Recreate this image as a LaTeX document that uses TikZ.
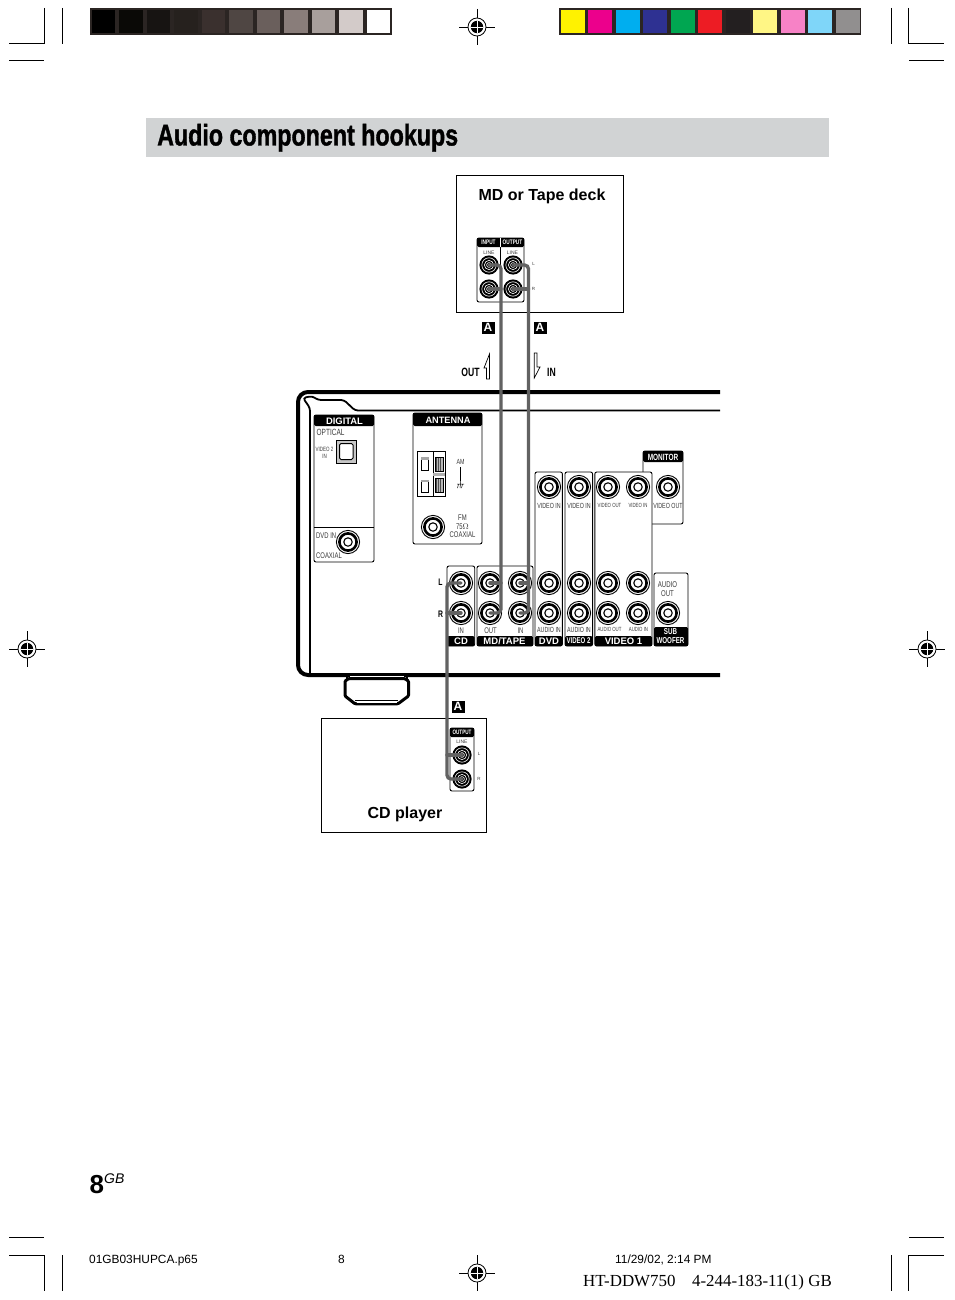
\documentclass[tikz,border=0pt]{standalone}
\usepackage{fontspec}
\setmainfont{Liberation Sans}
\newfontfamily\narrowf[FakeStretch=0.72]{Liberation Sans}
\newfontfamily\titlef[FakeStretch=0.72]{Liberation Sans}
\newfontfamily\headf[FakeStretch=0.775,FakeBold=1.2]{Liberation Sans}
\newfontfamily\timesf{Liberation Serif}
\usetikzlibrary{calc}
\definecolor{frameink}{HTML}{2B2523}
\definecolor{cableink}{HTML}{626262}
\definecolor{labelink}{HTML}{3A3A3A}
\definecolor{bandink}{HTML}{D1D3D4}
\tikzset{
  x=1pt,y=-1pt,
  crop/.style={line width=1pt,black},
  panel/.style={draw=black,line width=.9pt,fill=white,rounded corners=2pt},
  blackcap/.style={fill=black,rounded corners=1.5pt},
  unitbox/.style={draw=black,line width=1pt,fill=white},
  lab/.style={inner sep=0pt,font=\narrowf\fontsize{8.2}{8.6}\selectfont,text=labelink,align=center},
  tinylab/.style={inner sep=0pt,font=\narrowf\fontsize{7.4}{7.8}\selectfont,text=labelink,align=center},
  wee/.style={inner sep=0pt,font=\fontsize{5}{5}\selectfont,text=labelink},
  capb/.style={inner sep=0pt,font=\fontsize{9.5}{9.5}\selectfont\bfseries,text=white},
  capn/.style={inner sep=0pt,font=\titlef\bfseries\fontsize{8.4}{8.4}\selectfont,text=white,align=center},
  capt/.style={inner sep=0pt,font=\titlef\bfseries\fontsize{6.6}{6.6}\selectfont,text=white},
  boldn/.style={inner sep=0pt,font=\titlef\bfseries\fontsize{12}{12}\selectfont,text=black},
  unittitle/.style={inner sep=0pt,font=\fontsize{16}{16}\selectfont\bfseries},
  badge/.style={fill=black,text=white,inner sep=0pt,minimum width=13pt,minimum height=12pt,font=\fontsize{12}{12}\selectfont\bfseries},
  footlab/.style={inner sep=0pt,font=\fontsize{11.9}{11.9}\selectfont,text=black},
  jackface/.style={circle,inner sep=0pt,minimum size=24pt},
  cable/.style={draw=cableink,line width=3.4pt,rounded corners=4pt,line cap=round},
  branch/.style={draw=cableink,line width=3.4pt,line cap=round},
  hollow/.style={draw=black,line width=.7pt,fill=white,line join=miter}
}
\newcommand{\jack}[2]{%
  \node[jackface] (#1) at (#2) {};
  \draw[black,line width=.9pt,fill=white] (#1.center) circle (11.6);
  \draw[black,line width=2.6pt,fill=white] (#1.center) circle (8.6);
  \draw[black,line width=1.1pt] (#1.center) circle (4.2);
}
\newcommand{\smalljack}[2]{%
  \node[jackface,minimum size=20pt] (#1) at (#2) {};
  \fill[black] (#1.center) circle (9.6);
  \draw[white,line width=.6pt] (#1.center) circle (7.2);
  \draw[white,line width=.6pt] (#1.center) circle (4.6);
  \draw[white,line width=.6pt] (#1.center) circle (2.4);
}
\newcommand{\regmark}[2]{%
  \coordinate (#1) at (#2);
  \draw[black,line width=.5pt] ($(#1)+(-18,0)$) -- ($(#1)+(18,0)$) ($(#1)+(0,-18)$) -- ($(#1)+(0,18)$);
  \draw[black,line width=.8pt,fill=white] (#1) circle (9);
  \fill[black] (#1) circle (6.2);
  \draw[white,line width=.9pt] ($(#1)+(-6.2,0)$) -- ($(#1)+(6.2,0)$) ($(#1)+(0,-6.2)$) -- ($(#1)+(0,6.2)$);
}
\newcommand{\swatch}[3]{\fill[#3] (#1,10) rectangle (#2,33.5);}
\begin{document}
\begin{tikzpicture}
\useasboundingbox (0,0) rectangle (954,1300);
\fill[white] (0,0) rectangle (954,1300);

% crop marks
\draw[crop] (44.5,8) -- (44.5,44) -- (9,44) (62,8) -- (62,44) (9,61) -- (44,61);
\draw[crop] (891,8) -- (891,44) (908.5,8) -- (908.5,44) -- (944,44) (909,61) -- (944,61);
\draw[crop] (9,1237) -- (44,1237) (9,1255) -- (44.5,1255) -- (44.5,1291) (62,1255) -- (62,1291);
\draw[crop] (909,1237) -- (944,1237) (944,1255) -- (908.5,1255) -- (908.5,1291) (891,1255) -- (891,1291);

% registration marks
\regmark{regT}{477,27}
\regmark{regL}{27,649}
\regmark{regR}{927,649}
\regmark{regB}{477,1273}

% colour bars
\fill[frameink] (90,8) rectangle (392,35);
\definecolor{gA}{HTML}{000000}\definecolor{gB}{HTML}{0A0906}\definecolor{gC}{HTML}{171412}
\definecolor{gD}{HTML}{26211E}\definecolor{gE}{HTML}{3A302E}\definecolor{gF}{HTML}{4F4643}
\definecolor{gG}{HTML}{6A5F5C}\definecolor{gH}{HTML}{897D7A}\definecolor{gI}{HTML}{A89F9C}
\definecolor{gJ}{HTML}{D3CBC9}
\swatch{92}{115}{gA}\swatch{119}{143}{gB}\swatch{147}{170}{gC}\swatch{174}{198}{gD}
\swatch{202}{225}{gE}\swatch{229}{253}{gF}\swatch{257}{280}{gG}\swatch{284}{308}{gH}
\swatch{312}{335}{gI}\swatch{339}{363}{gJ}\swatch{367}{390}{white}
\fill[frameink] (559,8) rectangle (861,35);
\definecolor{cA}{HTML}{FFF200}\definecolor{cB}{HTML}{EC008C}\definecolor{cC}{HTML}{00AEEF}
\definecolor{cD}{HTML}{2E3192}\definecolor{cE}{HTML}{00A651}\definecolor{cF}{HTML}{ED1C24}
\definecolor{cG}{HTML}{231F20}\definecolor{cH}{HTML}{FFF685}\definecolor{cI}{HTML}{F782C6}
\definecolor{cJ}{HTML}{7FD6F9}\definecolor{cK}{HTML}{918F8F}
\swatch{561}{585}{cA}\swatch{588}{612}{cB}\swatch{616}{640}{cC}\swatch{643}{667}{cD}
\swatch{671}{695}{cE}\swatch{698}{722}{cF}\swatch{726}{750}{cG}\swatch{753}{777}{cH}
\swatch{781}{805}{cI}\swatch{808}{832}{cJ}\swatch{836}{860}{cK}

% title
\fill[bandink] (146,118) rectangle (829,157);
\node[anchor=base west,inner sep=0pt,font=\headf\bfseries\fontsize{30}{30}\selectfont] (title) at (157,145.5) {Audio component hookups};

% MD / tape deck
\draw[unitbox] (456.6,175.8) rectangle (623.3,312.3);
\node[unittitle] (mdtitle) at (542,196.5) {MD or Tape deck};
\draw[panel] (477,238) rectangle (524,302);
\fill[blackcap] (477,238) rectangle (524,247);
\draw[white,line width=.6pt] (500.5,238) -- (500.5,247);
\node[capt] (hin) at (488.5,242.7) {INPUT};
\node[capt] (hout) at (512.5,242.7) {OUTPUT};
\node[wee] (li1) at (489,252.5) {LINE};
\node[wee] (li2) at (512.5,252.5) {LINE};
\draw[black,line width=.6pt] (500.5,247) -- (500.5,302);
\node[wee,font=\fontsize{4.5}{4.5}\selectfont] (dl) at (533.5,264) {L};
\node[wee,font=\fontsize{4.5}{4.5}\selectfont] (dr) at (533.5,289) {R};
\smalljack{deckInL}{489,265}
\smalljack{deckOutL}{513,265}
\smalljack{deckInR}{489,289}
\smalljack{deckOutR}{513,289}

% badges and direction arrows
\node[badge] (badgeL) at (488,327.5) {A};
\node[badge] (badgeR) at (540,327.5) {A};
\node[boldn] (outlab) at (470.5,372) {OUT};
\draw[hollow] (489.5,354) -- (484,368) -- (486.5,368) -- (486.5,379) -- (489.5,379) -- cycle;
\draw[hollow] (534.3,353) -- (537,353) -- (537,367) -- (540,367) -- (534.3,378) -- cycle;
\node[boldn] (inlab) at (551.5,372) {IN};

% receiver body
\draw[black,line width=4pt,rounded corners=10pt] (720,392) -- (298,392) -- (298,675) -- (720,675);
\draw[black,line width=1.8pt,rounded corners=3pt] (720,410.5) -- (355,410.5) -- (344,400) -- (318,400) -- (312,396) -- (303,398) -- (310,408) -- (310,675);
% foot
\fill[white] (350,675.6) rectangle (403.5,677.2);
\draw[black,line width=3pt,rounded corners=1pt] (349,678.5) -- (345,681) -- (345,696) -- (355,703.8) -- (398,703.8) -- (408.5,696) -- (408.5,681) -- (404.5,678.5) -- cycle;
\draw[black,line width=1pt] (355,700.5) -- (398,700.5);
\fill[white] (357,701.2) rectangle (397,703.2);
\draw[black,line width=2pt] (347,675) -- (347,679) (406.5,675) -- (406.5,679);

% digital panel
\draw[panel] (314,415) rectangle (374,562);
\fill[blackcap] (314,415) rectangle (374,426);
\node[capb,font=\fontsize{9.4}{9.4}\selectfont\bfseries] (digcap) at (344.5,421) {DIGITAL};
\node[lab,anchor=west,font=\narrowf\fontsize{9}{9}\selectfont] (opt) at (316.5,432.5) {OPTICAL};
\node[tinylab,font=\narrowf\fontsize{6.2}{6.8}\selectfont] (v2in) at (324.5,452.5) {VIDEO 2\\IN};
\draw[black,line width=1pt,fill=gray!45] (336,440) rectangle (356,463);
\draw[black,line width=1pt,fill=white,rounded corners=1.5pt] (339.5,443.5) rectangle (353,459.5);
\draw[black,line width=.9pt] (314,527) -- (374,527);
\node[lab,anchor=west] (dvdin) at (316,535.5) {DVD IN};
\node[lab,anchor=west] (coax1) at (316,555.5) {COAXIAL};
\jack{dvdCoax}{348,542}

% antenna panel
\draw[panel] (413,413) rectangle (482,544);
\fill[blackcap] (413,413) rectangle (482,426);
\node[capb,font=\fontsize{9.2}{9.2}\selectfont\bfseries] (antcap) at (448,420) {ANTENNA};
\draw[black,line width=.9pt,fill=white] (417.5,451.5) rectangle (445,496.5);
\draw[black,line width=.7pt] (433,451.5) -- (433,496.5);
\fill[gray!60] (433,473) rectangle (445,476);
\draw[black,line width=.7pt,fill=white] (421,457) rectangle (428.5,470.5);
\fill[gray!70] (421,457) rectangle (428.5,460);
\draw[black,line width=.7pt,fill=white] (421,480) rectangle (428.5,492);
\fill[gray!70] (421,480) rectangle (428.5,482);
\foreach \yy in {457,478}{
  \fill[gray!55] (435,\yy) rectangle (443,\yy+14);
  \foreach \xx in {436.5,438.5,440.5}{\draw[black!70,line width=.4pt] (\xx,\yy) -- (\xx,\yy+14);}
  \draw[black,line width=.6pt] (435,\yy) rectangle (443,\yy+14);
}
\node[tinylab,font=\narrowf\fontsize{7.4}{7.4}\selectfont] (amlab) at (460.5,461.5) {AM};
\coordinate (amTop) at (460.5,467);
\coordinate (amGnd) at (460.5,481);
\draw[black,line width=.8pt] (amTop) -- (amGnd);
\draw[black,line width=.5pt] (460.5,481) -- (460.5,484) (457,484) -- (464,484) (458.5,484) -- (457.5,488) (460.5,484) -- (460,488) (462.5,484) -- (461.5,488);
\node[lab,font=\narrowf\fontsize{8.2}{8.6}\selectfont] (fmlab) at (462.5,526.5) {FM\\75$\Omega$\\COAXIAL};
\jack{fmCoax}{433,527}

% rear panel groups
\draw[panel] (447,566) rectangle (474.7,646);
\draw[panel] (477,566) rectangle (533,646);
\draw[panel] (535,472) rectangle (562.4,646);
\draw[panel] (565,472) rectangle (592.6,646);
\draw[panel] (643,451) rectangle (683,524);
\draw[panel] (594.8,472) rectangle (652,646);
\fill[blackcap] (643,451) rectangle (683,462);
\node[capn,font=\titlef\bfseries\fontsize{9}{9}\selectfont] (moncap) at (663,457) {MONITOR};
\draw[panel] (654,573) rectangle (688,646);
\fill[blackcap] (447,636) rectangle (474.7,646);
\fill[blackcap] (477,636) rectangle (533,646);
\fill[blackcap] (535,636) rectangle (562.4,646);
\fill[blackcap] (565,636) rectangle (592.6,646);
\fill[blackcap] (594.8,636) rectangle (652,646);
\fill[blackcap] (654,627) rectangle (688,646);
\node[capb] (cdcap) at (461,641) {CD};
\node[capb] (mdcap) at (504.5,641) {MD/TAPE};
\node[capb] (dvdcap) at (549,641) {DVD};
\node[capn] (v2cap) at (578.5,641) {VIDEO 2};
\node[capb] (v1cap) at (623.5,641) {VIDEO 1};
\node[capn,font=\titlef\bfseries\fontsize{8.6}{9.4}\selectfont] (subcap) at (670.5,636) {SUB\\WOOFER};

\foreach \nm/\xx in {vDvd/549,vV2/579,vV1o/608,vV1i/638,vMon/668}{\expandafter\jack\expandafter{\nm}{\xx,487}}
\foreach \nm/\xx in {cdL/461,mdOutL/490,mdInL/520,dvdL/549,v2L/579,v1oL/608,v1iL/638}{\expandafter\jack\expandafter{\nm}{\xx,583}}
\foreach \nm/\xx in {cdR/461,mdOutR/490,mdInR/520,dvdR/549,v2R/579,v1oR/608,v1iR/638,subW/668}{\expandafter\jack\expandafter{\nm}{\xx,613}}

\node[tinylab] (l1) at (549,505.5) {VIDEO IN};
\node[tinylab] (l2) at (579,505.5) {VIDEO IN};
\node[tinylab,font=\narrowf\fontsize{6}{6}\selectfont] (l3) at (609.5,505.5) {VIDEO OUT};
\node[tinylab,font=\narrowf\fontsize{6}{6}\selectfont] (l4) at (638,505.5) {VIDEO IN};
\node[tinylab] (l5) at (668,505.5) {VIDEO OUT};
\node[tinylab] (l6) at (549,629.5) {AUDIO IN};
\node[tinylab] (l7) at (579,629.5) {AUDIO IN};
\node[tinylab,font=\narrowf\fontsize{6}{6}\selectfont] (l8) at (609.5,629.5) {AUDIO OUT};
\node[tinylab,font=\narrowf\fontsize{6}{6}\selectfont] (l9) at (638.5,629.5) {AUDIO IN};
\node[lab] (l10) at (461,630.5) {IN};
\node[lab] (l11) at (490.5,630.5) {OUT};
\node[lab] (l12) at (520.5,630.5) {IN};
\node[lab,font=\narrowf\fontsize{8.4}{8.8}\selectfont] (l13) at (667.5,589) {AUDIO\\OUT};
\node[boldn,font=\titlef\bfseries\fontsize{9.5}{9.5}\selectfont] (lL) at (440.5,582.5) {L};
\node[boldn,font=\titlef\bfseries\fontsize{9.5}{9.5}\selectfont] (lR) at (440.5,614.5) {R};

% CD player
\draw[unitbox] (321.7,718.3) rectangle (486.7,832.3);
\node[unittitle] (cdtitle) at (405,814.5) {CD player};
\draw[panel] (450,728) rectangle (474,791);
\fill[blackcap] (450,728) rectangle (474,737);
\node[capt,font=\titlef\bfseries\fontsize{6.4}{6.4}\selectfont] (cdout) at (462,732.7) {OUTPUT};
\node[wee] (cdline) at (462,742) {LINE};
\node[wee,font=\fontsize{4.5}{4.5}\selectfont] (cl) at (479,754) {L};
\node[wee,font=\fontsize{4.5}{4.5}\selectfont] (cr) at (479,779) {R};
\smalljack{cdOutL}{462,755}
\smalljack{cdOutR}{462,779}
\node[badge] (badgeC) at (458,706.5) {A};

% cables
\coordinate (trunkA) at (501,450);
\coordinate (trunkB) at (528.5,450);
\coordinate (trunkC) at (447,680);
\draw[cable] (deckInL.center) -| (trunkA) |- (mdOutR.center);
\draw[branch] (mdOutL.center) -- (mdOutL.center -| trunkA);
\draw[branch] (deckInR.center) -- (deckInR.center -| trunkA);
\draw[cable] (deckOutL.center) -| (trunkB) |- (mdInR.center);
\draw[branch] (deckOutR.center) -- (deckOutR.center -| trunkB);
\draw[branch] (mdInL.center) -- (mdInL.center -| trunkB);
\draw[cable] (cdL.center) -| (trunkC) |- (cdOutR.center);
\draw[branch] (cdR.center) -- (cdR.center -| trunkC);
\draw[branch] (cdOutL.center) -- (cdOutL.center -| trunkC);

% page number and footer
\node[anchor=base west,inner sep=0pt,font=\fontsize{26}{26}\selectfont\bfseries] (pnum) at (89.5,1193.5) {8};
\node[anchor=base west,inner sep=0pt,font=\fontsize{14}{14}\selectfont\itshape] (pgb) at (104,1183) {GB};
\node[footlab,anchor=base west] (f1) at (89,1263.5) {01GB03HUPCA.p65};
\node[footlab,anchor=base] (f2) at (341.5,1263.5) {8};
\node[footlab,anchor=base west] (f3) at (615,1263.5) {11/29/02, 2:14 PM};
\node[anchor=base west,inner sep=0pt,font=\timesf\fontsize{16.9}{16.9}\selectfont] (f4) at (583,1286) {HT-DDW750};
\node[anchor=base east,inner sep=0pt,font=\timesf\fontsize{16.9}{16.9}\selectfont] (f5) at (832,1286) {4-244-183-11(1) GB};
\end{tikzpicture}
\end{document}
